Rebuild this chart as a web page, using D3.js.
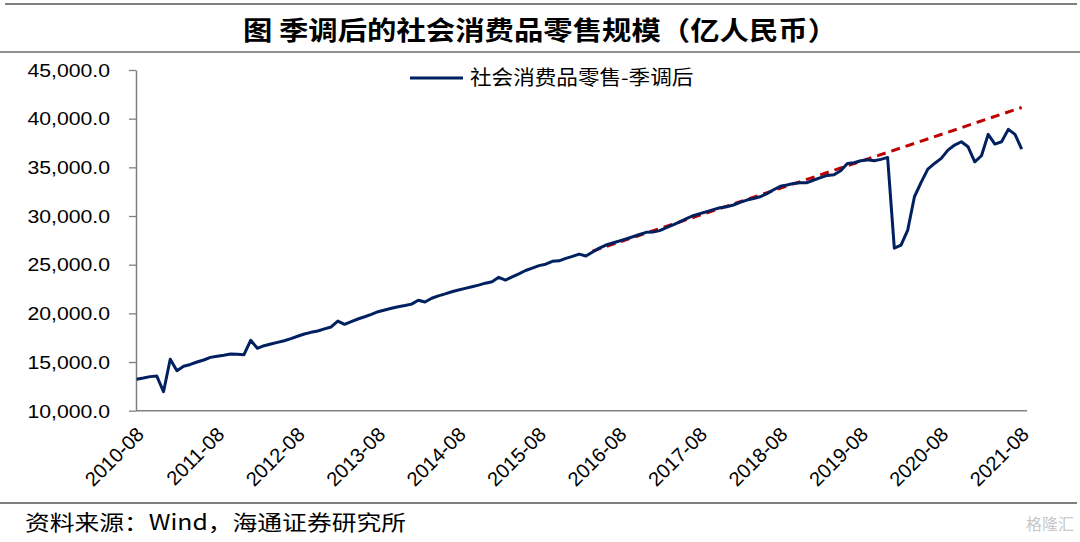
<!DOCTYPE html>
<html><head><meta charset="utf-8">
<script src="https://cdn.jsdelivr.net/npm/d3@7"></script>
<style>
html,body{margin:0;padding:0;background:#fff;}
svg{display:block;}
</style></head>
<body>
<svg id="chart" width="1080" height="542"></svg>
<script>
// ---- data ----
const title = "图  季调后的社会消费品零售规模（亿人民币）";
const seriesName = "社会消费品零售-季调后";
const source = "资料来源：Wind，海通证券研究所";
const startMonth = "2010-08";
const endMonth = "2021-08";
const values = [
13225,13350,13500,13560,11950,15280,14110,14560,14750,15000,15210,15480,
15600,15700,15820,15800,15750,17230,16410,16680,16850,17020,17190,17400,
17650,17880,18050,18190,18400,18600,19210,18870,19150,19420,19650,19900,
20170,20350,20520,20680,20800,20950,21340,21160,21550,21800,22000,22220,
22400,22570,22740,22900,23100,23250,23700,23420,23740,24060,24400,24650,
24900,25050,25350,25400,25650,25850,26090,25890,26300,26700,27020,27230,
27430,27650,27870,28100,28320,28360,28500,28800,29100,29410,29720,30030,
30240,30440,30650,30850,30950,31130,31400,31640,31800,31980,32300,32700,
33050,33180,33350,33420,33420,33700,33950,34170,34240,34650,35400,35470,
35680,35780,35680,35820,36020,26700,27020,28560,31980,33450,34820,35400,
35920,36770,37290,37630,37110,35570,36190,38390,37390,37630,38900,38390,
36880];
const trendMonths = ["2016-04","2021-08"];
const trendValues = [26400,41150];
const yTicks = [10000,15000,20000,25000,30000,35000,40000,45000];
const xTickLabels = ["2010-08","2011-08","2012-08","2013-08","2014-08","2015-08","2016-08","2017-08","2018-08","2019-08","2020-08","2021-08"];

// ---- build ----
const fmtM = d3.timeFormat("%Y-%m");
const parseM = d3.timeParse("%Y-%m");
const months = d3.timeMonth.range(parseM(startMonth), d3.timeMonth.offset(parseM(endMonth),1)).map(fmtM);
const data = months.map((m,i)=>({m, v: values[i]}));
const trend = trendMonths.map((m,i)=>({m, v: trendValues[i]}));

const svg = d3.select("#chart");
const x = d3.scalePoint().domain(months).range([136.7, 1021.7]);
const y = d3.scaleLinear().domain([10000,45000]).range([410.7, 70]);

const cjk = "'Noto Sans CJK SC','Noto Sans CJK JP',sans-serif";
const lat = "'Liberation Sans',Arial,sans-serif";

// frame lines
svg.append("line").attr("x1",5).attr("x2",1077).attr("y1",4).attr("y2",4).attr("stroke","#7f7f7f").attr("stroke-width",2);
svg.append("line").attr("x1",0).attr("x2",1080).attr("y1",52).attr("y2",52).attr("stroke","#222").attr("stroke-width",1.2);
svg.append("line").attr("x1",0).attr("x2",1077).attr("y1",503).attr("y2",503).attr("stroke","#7f7f7f").attr("stroke-width",2);

// title (horizontally stretched like the reference)
svg.append("text").attr("x",0).attr("y",40).attr("text-anchor","middle")
  .attr("transform","translate(540,0) scale(1.13,1)")
  .attr("font-family",cjk).attr("font-weight","bold").attr("font-size",26)
  .attr("fill","#000").text(title);

// y axis
const yAxis = svg.append("g").attr("transform","translate(136,0)")
  .call(d3.axisLeft(y).tickValues(yTicks).tickSize(7).tickSizeOuter(0).tickFormat(d3.format(",.1f")));
yAxis.select(".domain").attr("stroke","#808080").attr("stroke-width",1.5);
yAxis.selectAll(".tick line").attr("stroke","#808080").attr("stroke-width",1.3);
yAxis.selectAll(".tick text").attr("font-family",lat).attr("font-size",18).attr("fill","#000")
  .attr("x",-22).attr("dy","0.35em").attr("transform","scale(1.18,1)");

// x axis
const xAxis = svg.append("g").attr("transform","translate(0,410.7)")
  .call(d3.axisBottom(x).tickValues(xTickLabels).tickSize(0).tickSizeOuter(0));
xAxis.select(".domain").attr("stroke","#808080").attr("stroke-width",1.5).attr("d","M136,0H1027");
xAxis.selectAll(".tick text").attr("font-family",lat).attr("font-size",20).attr("fill","#000")
  .attr("text-anchor","end").attr("x",0).attr("y",0).attr("dy",0)
  .attr("transform","translate(8,25) rotate(-45)");

// trend line
svg.append("path").datum(trend)
  .attr("d", d3.line().x(d=>x(d.m)).y(d=>y(d.v)))
  .attr("fill","none").attr("stroke","#C00000").attr("stroke-width",3).attr("stroke-dasharray","9,6");

// main line
svg.append("path").datum(data)
  .attr("d", d3.line().x(d=>x(d.m)).y(d=>y(d.v)))
  .attr("fill","none").attr("stroke","#002060").attr("stroke-width",3).attr("stroke-linejoin","round");

// legend
svg.append("line").attr("x1",410).attr("x2",463).attr("y1",78).attr("y2",78).attr("stroke","#002060").attr("stroke-width",3);
svg.append("text").attr("x",0).attr("y",85).attr("transform","translate(470,0) scale(1.08,1)")
  .attr("font-family",cjk).attr("font-size",20).attr("fill","#000").text(seriesName);

// source
svg.append("text").attr("x",0).attr("y",530).attr("transform","translate(25,0) scale(1.18,1)")
  .attr("font-family",cjk).attr("font-size",21).attr("fill","#000").text(source);
svg.append("text").attr("x",1074).attr("y",530).attr("text-anchor","end").attr("font-family",cjk).attr("font-size",16).attr("fill","#c8c8c8").text("格隆汇");
</script>
</body></html>
